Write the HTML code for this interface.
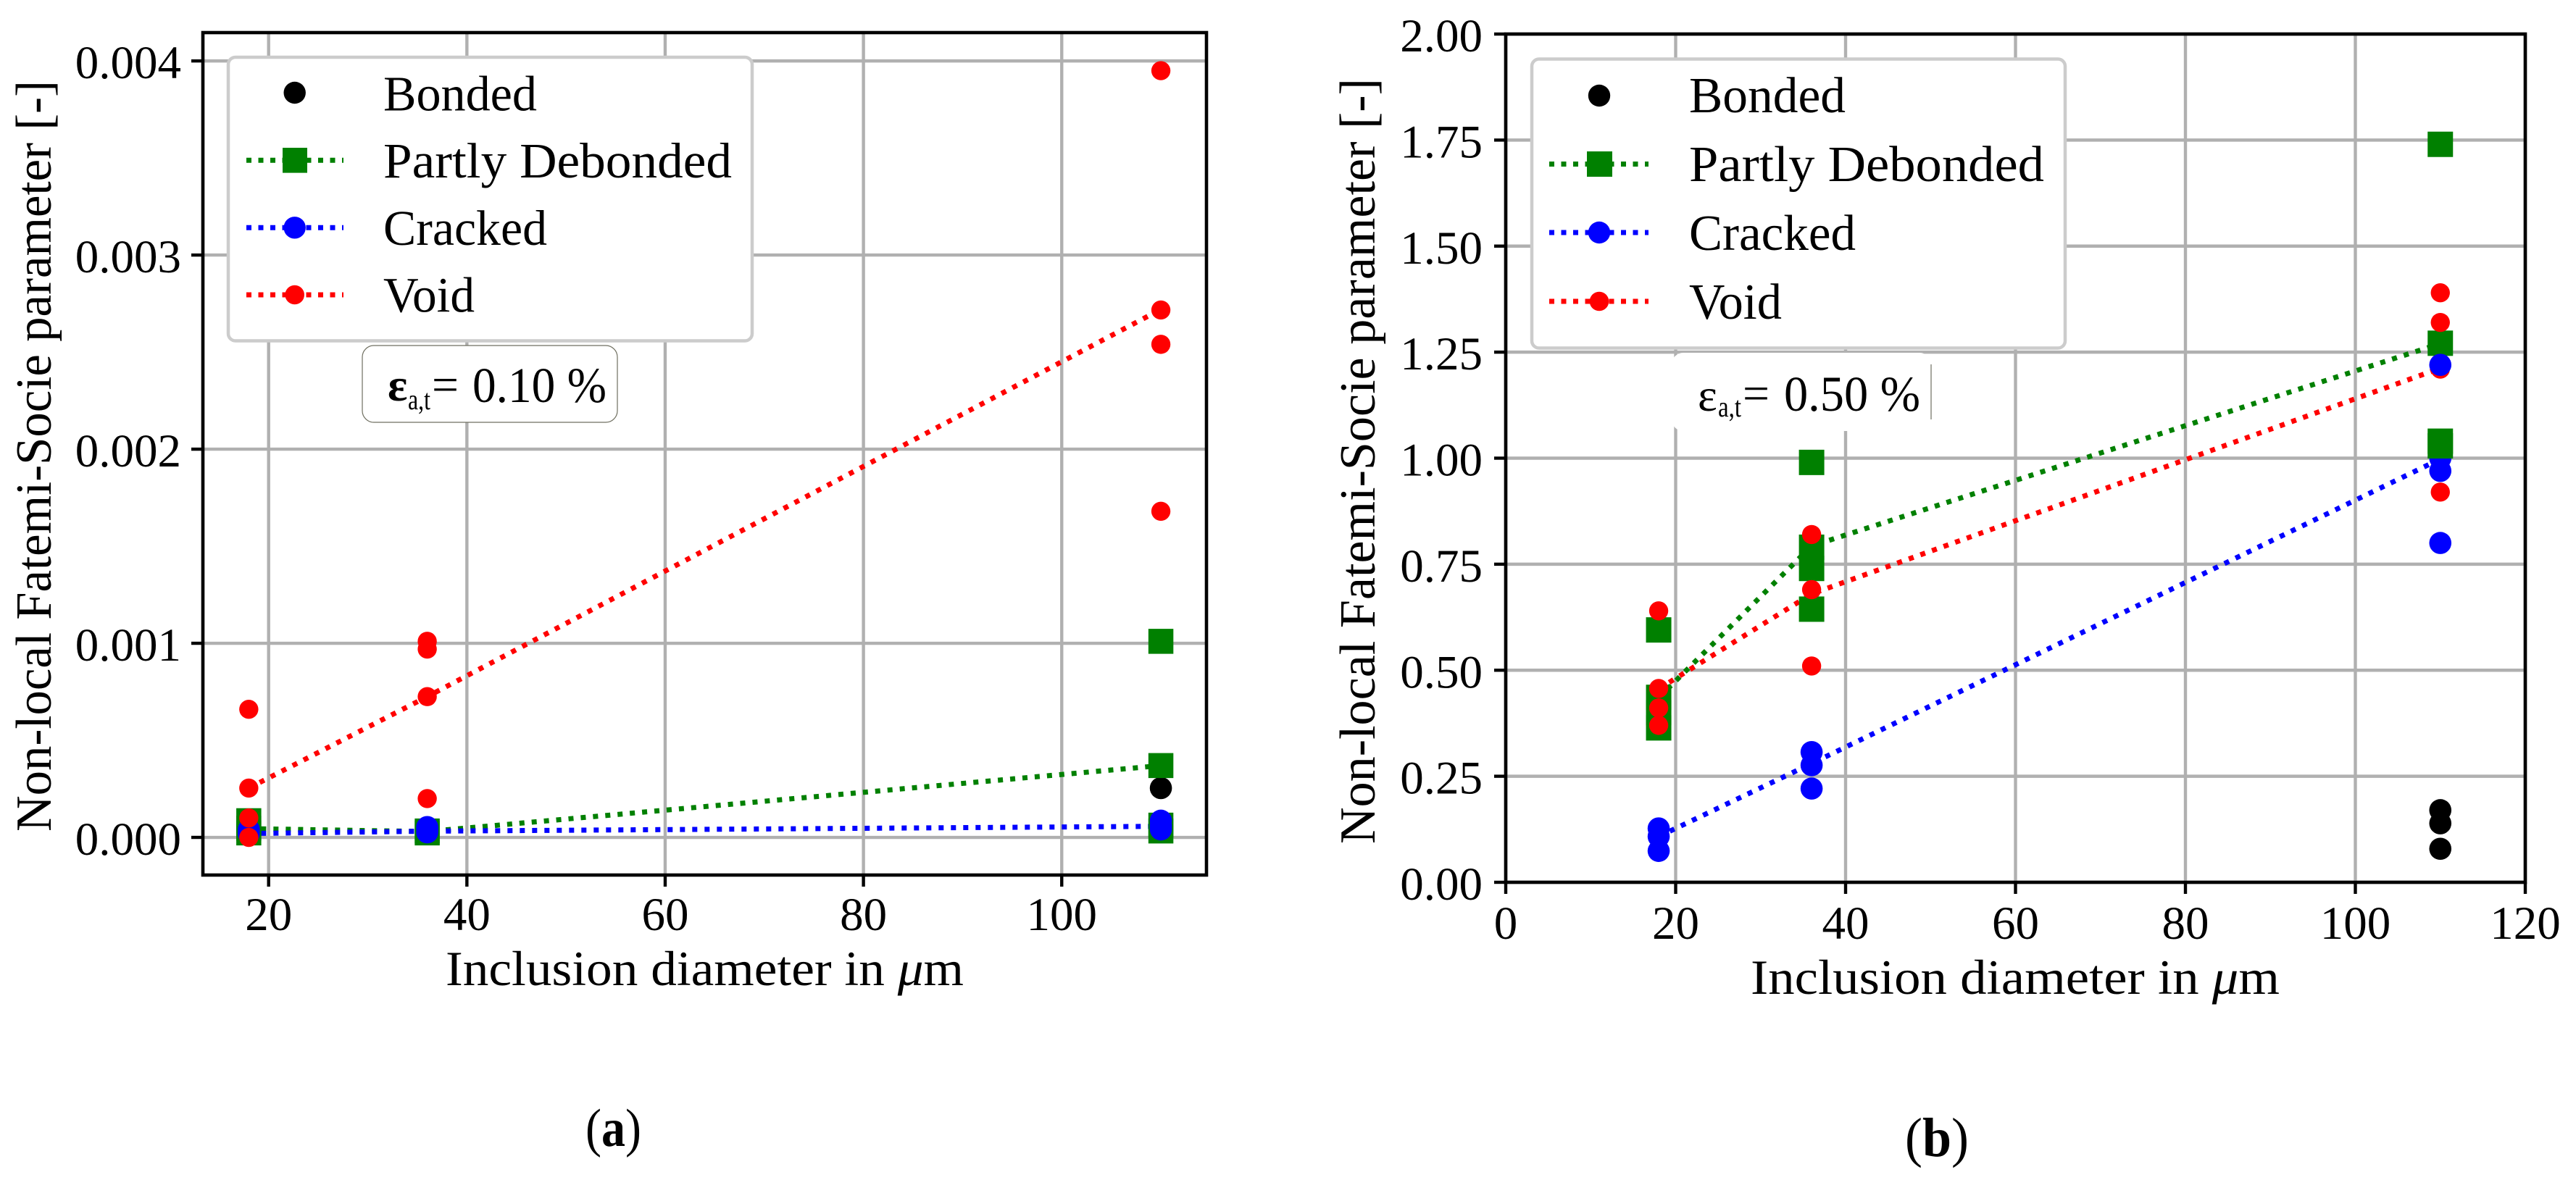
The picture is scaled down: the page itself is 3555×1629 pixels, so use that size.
<!DOCTYPE html>
<html lang="en">
<head>
<meta charset="utf-8">
<title>Non-local Fatemi-Socie parameter vs inclusion diameter</title>
<style>
html,body{margin:0;padding:0;background:#fff;}
svg{display:block;}
text{font-family:"Liberation Serif",serif;fill:#000;}
</style>
</head>
<body>
<svg id="figure" xmlns="http://www.w3.org/2000/svg" width="3555" height="1629" viewBox="0 0 3555 1629">
  <rect x="0" y="0" width="3555" height="1629" fill="#fff"/>

  <!-- Panel A -->
  <g id="panel-a"></g>
  <text transform="translate(70,1148) rotate(-90)" font-size="70" textLength="1037" lengthAdjust="spacingAndGlyphs">Non-local Fatemi-Socie parameter [-]</text>
  <text x="615" y="1360" font-size="68" textLength="715" lengthAdjust="spacingAndGlyphs">Inclusion diameter in <tspan font-style="italic">μ</tspan>m</text>
  <text x="808" y="1582" font-size="74" textLength="77" lengthAdjust="spacingAndGlyphs">(<tspan font-weight="bold">a</tspan>)</text>

  <g>
    <rect x="315" y="79" width="723" height="391.5" rx="10" ry="10" fill="#fff" stroke="#cccccc" stroke-width="4.5"/>
    <g>
      <circle cx="406.7" cy="128" r="15.2" fill="#000"/>
      <text x="529" y="152.3" font-size="69" textLength="212" lengthAdjust="spacingAndGlyphs">Bonded</text>
    </g>
    <g>
      <line x1="340" y1="221.3" x2="474" y2="221.3" stroke="#008000" stroke-width="7" stroke-dasharray="7 9.5"/>
      <rect x="390" y="204" width="34" height="34.6" fill="#008000"/>
      <text x="529" y="245" font-size="69" textLength="481" lengthAdjust="spacingAndGlyphs">Partly Debonded</text>
    </g>
    <g>
      <line x1="340" y1="314.3" x2="474" y2="314.3" stroke="#0000ff" stroke-width="7" stroke-dasharray="7 9.5"/>
      <circle cx="406.7" cy="314.3" r="15.2" fill="#0000ff"/>
      <text x="529" y="338" font-size="69" textLength="226" lengthAdjust="spacingAndGlyphs">Cracked</text>
    </g>
    <g>
      <line x1="340" y1="407" x2="474" y2="407" stroke="#ff0000" stroke-width="7" stroke-dasharray="7 9.5"/>
      <circle cx="406.7" cy="407" r="13.3" fill="#ff0000"/>
      <text x="529" y="430.5" font-size="69" textLength="126" lengthAdjust="spacingAndGlyphs">Void</text>
    </g>
  </g>

  <g>
    <rect x="500" y="477" width="352" height="106" rx="16" ry="16" fill="#fff" stroke="#6f6f60" stroke-width="1.2"/>
    <text x="535" y="553" font-size="64" font-weight="bold">ε</text>
    <text x="563" y="565" font-size="40" textLength="31" lengthAdjust="spacingAndGlyphs">a,t</text>
    <text x="596" y="553" font-size="66" textLength="37" lengthAdjust="spacingAndGlyphs">=</text>
    <text x="652" y="555" font-size="69" textLength="185" lengthAdjust="spacingAndGlyphs">0.10 %</text>
  </g>

  <!-- Panel B -->
  <g id="panel-b"></g>
  <text transform="translate(1897,1165) rotate(-90)" font-size="70" textLength="1057" lengthAdjust="spacingAndGlyphs">Non-local Fatemi-Socie parameter [-]</text>
  <text x="2416" y="1372" font-size="68" textLength="730" lengthAdjust="spacingAndGlyphs">Inclusion diameter in <tspan font-style="italic">μ</tspan>m</text>
  <text x="2629" y="1596" font-size="76" textLength="88" lengthAdjust="spacingAndGlyphs">(<tspan font-weight="bold">b</tspan>)</text>

  <g>
    <rect x="2114" y="81.5" width="736" height="399" rx="10" ry="10" fill="#fff" stroke="#cccccc" stroke-width="4.5"/>
    <g>
      <circle cx="2207" cy="132" r="15.2" fill="#000"/>
      <text x="2331" y="155" font-size="70" textLength="216" lengthAdjust="spacingAndGlyphs">Bonded</text>
    </g>
    <g>
      <line x1="2138" y1="226.5" x2="2275" y2="226.5" stroke="#008000" stroke-width="7" stroke-dasharray="7 9.5"/>
      <rect x="2190" y="209" width="35" height="35" fill="#008000"/>
      <text x="2331" y="250" font-size="70" textLength="490" lengthAdjust="spacingAndGlyphs">Partly Debonded</text>
    </g>
    <g>
      <line x1="2138" y1="321" x2="2275" y2="321" stroke="#0000ff" stroke-width="7" stroke-dasharray="7 9.5"/>
      <circle cx="2207" cy="321" r="15.2" fill="#0000ff"/>
      <text x="2331" y="345" font-size="70" textLength="230" lengthAdjust="spacingAndGlyphs">Cracked</text>
    </g>
    <g>
      <line x1="2138" y1="416" x2="2275" y2="416" stroke="#ff0000" stroke-width="7" stroke-dasharray="7 9.5"/>
      <circle cx="2207" cy="416" r="13.3" fill="#ff0000"/>
      <text x="2331" y="440" font-size="70" textLength="128" lengthAdjust="spacingAndGlyphs">Void</text>
    </g>
  </g>

  <g>
    <rect x="2307" y="487" width="358" height="108" rx="16" ry="16" fill="#fff" stroke="none"/>
    <line x1="2665" y1="503" x2="2665" y2="579" stroke="#6f6f60" stroke-width="1.2"/>
    <text x="2343" y="567" font-size="64">ε</text>
    <text x="2371" y="575" font-size="40" textLength="32" lengthAdjust="spacingAndGlyphs">a,t</text>
    <text x="2405" y="565" font-size="66" textLength="37" lengthAdjust="spacingAndGlyphs">=</text>
    <text x="2462" y="567" font-size="69" textLength="188" lengthAdjust="spacingAndGlyphs">0.50 %</text>
  </g>
</svg>

<script>
/* ---------- Panel A values ---------- */
const meanDiametersA = [18, 36, 110];
const xTickValuesA = [20, 40, 60, 80, 100];
const xTickLabelsA = ['20', '40', '60', '80', '100'];
const yTickValuesA = [0, 0.001, 0.002, 0.003, 0.004];
const yTickLabelsA = ['0.000', '0.001', '0.002', '0.003', '0.004'];

const bondedDiametersA = [110];
const bondedValuesA = [0.000254];
const debondedDiametersA = [18, 18, 18, 36, 36, 110, 110, 110, 110];
const debondedValuesA = [0.000086, 0.000047, 0.000023, 0.000033, 0.000023, 0.00101, 0.00037, 0.000063, 0.000033];
const crackedDiametersA = [18, 18, 36, 36, 36, 110, 110, 110];
const crackedValuesA = [0.00004, 0.00002, 0.000053, 0.00004, 0.000026, 0.000086, 0.00006, 0.000041];
const voidDiametersA = [18, 18, 18, 18, 36, 36, 36, 36, 110, 110, 110, 110];
const voidValuesA = [0.00066, 0.000254, 0.0001, 0, 0.00101, 0.00097, 0.000725, 0.0002, 0.00395, 0.002717, 0.00254, 0.00168];

const debondedMeanA = [0.000045, 0.00003, 0.00037];
const crackedMeanA = [0.00002, 0.000032, 0.000057];
const voidMeanA = [0.000254, 0.000725, 0.00272];

/* ---------- Panel B values ---------- */
const meanDiametersB = [18, 36, 110];
const xTickValuesB = [0, 20, 40, 60, 80, 100, 120];
const xTickLabelsB = ['0', '20', '40', '60', '80', '100', '120'];
const yTickValuesB = [0, 0.25, 0.5, 0.75, 1, 1.25, 1.5, 1.75, 2];
const yTickLabelsB = ['0.00', '0.25', '0.50', '0.75', '1.00', '1.25', '1.50', '1.75', '2.00'];

const bondedDiametersB = [110, 110, 110];
const bondedValuesB = [0.17, 0.139, 0.079];
const crackedUnderDiametersB = [110];
const crackedUnderValuesB = [1.0];
const debondedDiametersB = [18, 18, 18, 18, 36, 36, 36, 36, 110, 110, 110, 110];
const debondedValuesB = [0.595, 0.436, 0.4, 0.364, 0.99, 0.79, 0.74, 0.644, 1.74, 1.271, 1.04, 1.029];
const voidDiametersB = [18, 18, 18, 18, 36, 36, 36, 110, 110, 110, 110];
const voidValuesB = [0.64, 0.457, 0.411, 0.37, 0.82, 0.69, 0.51, 1.39, 1.32, 1.21, 0.92];
const crackedDiametersB = [18, 18, 18, 36, 36, 36, 110, 110, 110];
const crackedValuesB = [0.127, 0.108, 0.074, 0.307, 0.276, 0.221, 1.22, 0.97, 0.8];

const debondedMeanB = [0.435, 0.793, 1.27];
const crackedMeanB = [0.108, 0.28, 0.998];
const voidMeanB = [0.456, 0.68, 1.212];

/* ---------- Drawing helpers ---------- */
const SVG_NS = 'http://www.w3.org/2000/svg';

function makeAxis(domainStart, domainEnd, rangeStart, rangeEnd) {
  return function (value) {
    return rangeStart + (value - domainStart) * (rangeEnd - rangeStart) / (domainEnd - domainStart);
  };
}

function shape(parent, tag, name, attrs) {
  const node = document.createElementNS(SVG_NS, tag);
  for (const key in attrs) {
    node.setAttribute(key, attrs[key]);
  }
  
  
  parent.appendChild(node);
  return node;
}

function drawFrame(group, box, xAxis, yAxis, xTicks, yTicks, prefix) {
  xTicks.forEach(function (tick) {
    const px = xAxis(tick);
    shape(group, 'line', prefix + '-x-gridline', {x1: px, x2: px, y1: box.top, y2: box.bottom, stroke: '#b0b0b0', 'stroke-width': 4.4});
  });
  yTicks.forEach(function (tick) {
    const py = yAxis(tick);
    shape(group, 'line', prefix + '-y-gridline', {x1: box.left, x2: box.right, y1: py, y2: py, stroke: '#b0b0b0', 'stroke-width': 4.4});
  });
}

function drawAxes(group, box, xAxis, yAxis, xTicks, xLabels, yTicks, yLabels, prefix) {
  xTicks.forEach(function (tick, i) {
    const px = xAxis(tick);
    shape(group, 'line', prefix + '-x-tick', {x1: px, x2: px, y1: box.bottom, y2: box.bottom + 16, stroke: '#000', 'stroke-width': 4.4});
    const label = shape(group, 'text', prefix + '-x-tick-label', {x: px, y: box.xLabelY, 'font-size': 65, 'text-anchor': 'middle'});
    label.textContent = xLabels[i];
  });
  yTicks.forEach(function (tick, i) {
    const py = yAxis(tick);
    shape(group, 'line', prefix + '-y-tick', {x1: box.left - 16, x2: box.left, y1: py, y2: py, stroke: '#000', 'stroke-width': 4.4});
    const label = shape(group, 'text', prefix + '-y-tick-label', {x: box.yLabelX, y: py + 24, 'font-size': 65, 'text-anchor': 'end'});
    label.textContent = yLabels[i];
  });
  shape(group, 'rect', prefix + '-axes-frame', {x: box.left, y: box.top, width: box.right - box.left, height: box.bottom - box.top, fill: 'none', stroke: '#000', 'stroke-width': 4.6});
}

function drawTrend(group, xAxis, yAxis, diameters, values, color, name) {
  const pts = diameters.map(function (d, i) {
    return xAxis(d) + ',' + yAxis(values[i]);
  }).join(' ');
  shape(group, 'polyline', name, {points: pts, fill: 'none', stroke: color, 'stroke-width': 7, 'stroke-dasharray': '7 10'});
}

function drawCircles(group, xAxis, yAxis, diameters, values, color, radius, name) {
  diameters.forEach(function (d, i) {
    shape(group, 'circle', name, {cx: xAxis(d), cy: yAxis(values[i]), r: radius, fill: color});
  });
}

function drawSquares(group, xAxis, yAxis, diameters, values, color, side, name) {
  diameters.forEach(function (d, i) {
    shape(group, 'rect', name, {x: xAxis(d) - side / 2, y: yAxis(values[i]) - side / 2, width: side, height: side, fill: color});
  });
}

/* ---------- Panel A ---------- */
(function () {
  const group = document.getElementById('panel-a');
  const box = {left: 280, right: 1665, top: 45, bottom: 1208, xLabelY: 1284, yLabelX: 250};
  const xAxis = makeAxis(13.371, 114.6, box.left, box.right);
  const yAxis = makeAxis(-0.000194, 0.004146, box.bottom, box.top);
  drawFrame(group, box, xAxis, yAxis, xTickValuesA, yTickValuesA, 'panel-a');
  drawTrend(group, xAxis, yAxis, meanDiametersA, debondedMeanA, '#008000', 'panel-a-trend-partly-debonded');
  drawTrend(group, xAxis, yAxis, meanDiametersA, crackedMeanA, '#0000ff', 'panel-a-trend-cracked');
  drawTrend(group, xAxis, yAxis, meanDiametersA, voidMeanA, '#ff0000', 'panel-a-trend-void');
  drawCircles(group, xAxis, yAxis, bondedDiametersA, bondedValuesA, '#000', 15.3, 'panel-a-point-bonded');
  drawSquares(group, xAxis, yAxis, debondedDiametersA, debondedValuesA, '#008000', 34.5, 'panel-a-point-partly-debonded');
  drawCircles(group, xAxis, yAxis, crackedDiametersA, crackedValuesA, '#0000ff', 15.3, 'panel-a-point-cracked');
  drawCircles(group, xAxis, yAxis, voidDiametersA, voidValuesA, '#ff0000', 13.2, 'panel-a-point-void');
  drawAxes(group, box, xAxis, yAxis, xTickValuesA, xTickLabelsA, yTickValuesA, yTickLabelsA, 'panel-a');
})();

/* ---------- Panel B ---------- */
(function () {
  const group = document.getElementById('panel-b');
  const box = {left: 2078, right: 3485, top: 47, bottom: 1218, xLabelY: 1296, yLabelX: 2046};
  const xAxis = makeAxis(0, 120, box.left, box.right);
  const yAxis = makeAxis(0, 2, box.bottom, box.top);
  drawFrame(group, box, xAxis, yAxis, xTickValuesB, yTickValuesB, 'panel-b');
  drawTrend(group, xAxis, yAxis, meanDiametersB, debondedMeanB, '#008000', 'panel-b-trend-partly-debonded');
  drawTrend(group, xAxis, yAxis, meanDiametersB, crackedMeanB, '#0000ff', 'panel-b-trend-cracked');
  drawTrend(group, xAxis, yAxis, meanDiametersB, voidMeanB, '#ff0000', 'panel-b-trend-void');
  drawCircles(group, xAxis, yAxis, bondedDiametersB, bondedValuesB, '#000', 15.3, 'panel-b-point-bonded');
  drawCircles(group, xAxis, yAxis, crackedUnderDiametersB, crackedUnderValuesB, '#0000ff', 15.3, 'panel-b-point-cracked');
  drawSquares(group, xAxis, yAxis, debondedDiametersB, debondedValuesB, '#008000', 35, 'panel-b-point-partly-debonded');
  drawCircles(group, xAxis, yAxis, voidDiametersB, voidValuesB, '#ff0000', 13.2, 'panel-b-point-void');
  drawCircles(group, xAxis, yAxis, crackedDiametersB, crackedValuesB, '#0000ff', 15.3, 'panel-b-point-cracked');
  drawAxes(group, box, xAxis, yAxis, xTickValuesB, xTickLabelsB, yTickValuesB, yTickLabelsB, 'panel-b');
})();
</script>
</body>
</html>
